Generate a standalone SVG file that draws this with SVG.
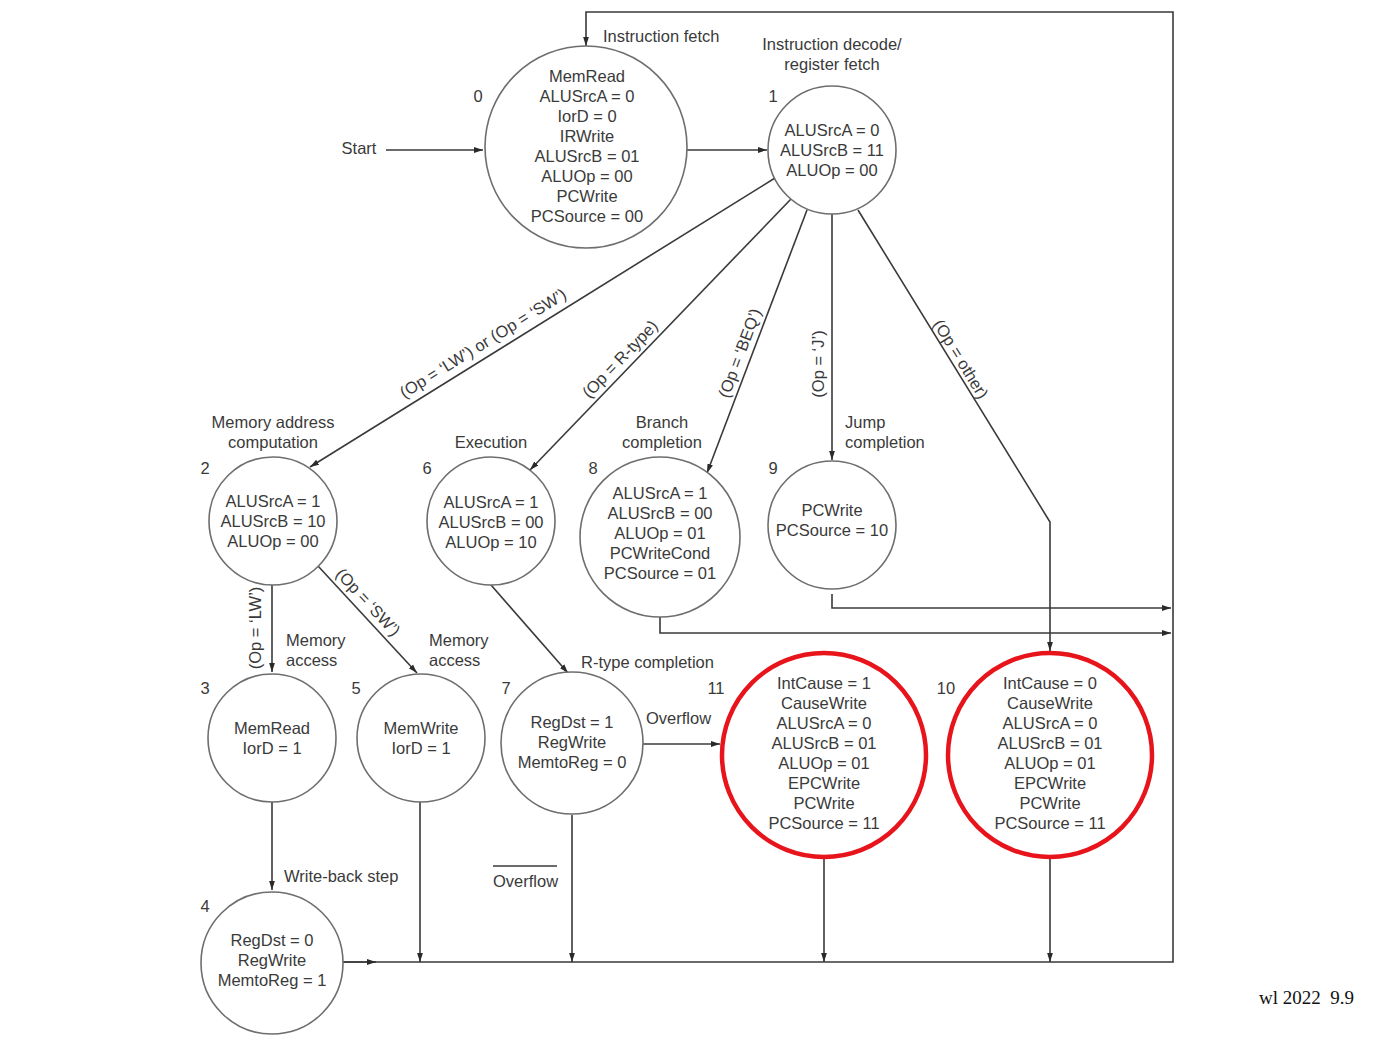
<svg xmlns="http://www.w3.org/2000/svg" width="1392" height="1046" viewBox="0 0 1392 1046">
  <style>
    text { font-family: "Liberation Sans", Arial, sans-serif; font-size: 16.5px; fill: #3a3a3a; }
    .c { text-anchor: middle; }
    .state { fill: #fff; stroke: #6e6e6e; stroke-width: 1.6; }
    .exc { fill: #fff; stroke: #e8141b; stroke-width: 4.5; }
    .wire { fill: none; stroke: #3a3a3a; stroke-width: 1.6; }
    .arr { fill: none; stroke: #3a3a3a; stroke-width: 1.6; marker-end: url(#ah); }
  </style>
  <defs>
    <marker id="ah" viewBox="0 0 10 10" refX="10" refY="5" markerWidth="9" markerHeight="9" markerUnits="userSpaceOnUse" orient="auto">
      <path d="M0,1.8 L10,5 L0,8.2 z" fill="#2a2a2a"/>
    </marker>
  </defs>
  <rect width="1392" height="1046" fill="#fff"/>

  <!-- transitions -->
  <g id="connectors">
    <!-- start -->
    <line class="arr" x1="386" y1="150" x2="483" y2="150"/>
    <!-- 0 -> 1 -->
    <line class="arr" x1="687" y1="150" x2="767" y2="150"/>
    <!-- 1 -> 2, 6, 8, 9 -->
    <line class="arr" x1="775" y1="178" x2="310" y2="467"/>
    <line class="arr" x1="791" y1="199" x2="530" y2="470"/>
    <line class="arr" x1="807" y1="210" x2="707" y2="473"/>
    <line class="arr" x1="832" y1="214" x2="832" y2="460"/>
    <!-- 1 -> 10 (other) -->
    <path class="arr" d="M858,210 L1050,522 V651"/>
    <!-- 2 -> 3, 5 -->
    <line class="arr" x1="272" y1="585" x2="272" y2="672"/>
    <line class="arr" x1="318" y1="566" x2="417" y2="673"/>
    <!-- 6 -> 7 -->
    <line class="arr" x1="491" y1="585" x2="568" y2="673"/>
    <!-- 7 -> 11 -->
    <line class="arr" x1="643" y1="744" x2="720" y2="744"/>
    <!-- 3 -> 4 -->
    <line class="arr" x1="272" y1="802" x2="272" y2="890"/>
    <!-- 9 and 8 back to fetch -->
    <path class="arr" d="M832,594 V608 H1171"/>
    <path class="arr" d="M660,617 V633 H1171"/>
    <!-- common return bus -->
    <path class="arr" d="M343,962 H1173 V12 H586 V46"/>
    <line class="arr" x1="343" y1="962" x2="376" y2="962"/>
    <line class="arr" x1="420" y1="802" x2="420" y2="962"/>
    <line class="arr" x1="572" y1="815" x2="572" y2="962"/>
    <line class="arr" x1="824" y1="858" x2="824" y2="962"/>
    <line class="arr" x1="1050" y1="858" x2="1050" y2="962"/>
  </g>

  <!-- transition labels -->
  <g id="labels">
    <text x="359" y="154" class="c">Start</text>
    <text x="603" y="42">Instruction fetch</text>
    <text x="832" y="50" class="c">Instruction decode/</text>
    <text x="832" y="70" class="c">register fetch</text>
    <text x="273" y="428" class="c">Memory address</text>
    <text x="273" y="448" class="c">computation</text>
    <text x="491" y="448" class="c">Execution</text>
    <text x="662" y="428" class="c">Branch</text>
    <text x="662" y="448" class="c">completion</text>
    <text x="845" y="428">Jump</text>
    <text x="845" y="448">completion</text>
    <text x="286" y="646">Memory</text>
    <text x="286" y="666">access</text>
    <text x="429" y="646">Memory</text>
    <text x="429" y="666">access</text>
    <text x="581" y="668">R-type completion</text>
    <text x="646" y="724">Overflow</text>
    <text x="284" y="882">Write-back step</text>
    <line x1="493" y1="866" x2="557" y2="866" stroke="#3a3a3a" stroke-width="1.6"/>
    <text x="493" y="887">Overflow</text>

    <text class="c" transform="translate(486,348) rotate(-31.8)">(Op = ‘LW’) or (Op = ‘SW’)</text>
    <text class="c" transform="translate(624,363) rotate(-46)">(Op = R-type)</text>
    <text class="c" transform="translate(745,355) rotate(-69.5)">(Op = ‘BEQ’)</text>
    <text class="c" transform="translate(824,364) rotate(-90)">(Op = ‘J’)</text>
    <text class="c" transform="translate(956,362) rotate(58.4)">(Op = other)</text>
    <text class="c" transform="translate(261,628) rotate(-90)">(Op = ‘LW’)</text>
    <text class="c" transform="translate(364,606) rotate(47)">(Op = ‘SW’)</text>

    <text x="1259" y="1004" xml:space="preserve" style="font-family:'Liberation Serif','Times New Roman',serif;font-size:19px;fill:#111;white-space:pre">wl 2022  9.9</text>
  </g>

  <g id="state0">
    <circle class="state" cx="586" cy="147" r="101"/>
    <text x="478" y="102" class="c">0</text>
    <text x="587" y="82" class="c">MemRead</text>
    <text x="587" y="102" class="c">ALUSrcA = 0</text>
    <text x="587" y="122" class="c">IorD = 0</text>
    <text x="587" y="142" class="c">IRWrite</text>
    <text x="587" y="162" class="c">ALUSrcB = 01</text>
    <text x="587" y="182" class="c">ALUOp = 00</text>
    <text x="587" y="202" class="c">PCWrite</text>
    <text x="587" y="222" class="c">PCSource = 00</text>
  </g>

  <g id="state1">
    <circle class="state" cx="832" cy="150" r="64"/>
    <text x="773" y="102" class="c">1</text>
    <text x="832" y="136" class="c">ALUSrcA = 0</text>
    <text x="832" y="156" class="c">ALUSrcB = 11</text>
    <text x="832" y="176" class="c">ALUOp = 00</text>
  </g>

  <g id="state2">
    <circle class="state" cx="273" cy="521" r="64"/>
    <text x="205" y="474" class="c">2</text>
    <text x="273" y="507" class="c">ALUSrcA = 1</text>
    <text x="273" y="527" class="c">ALUSrcB = 10</text>
    <text x="273" y="547" class="c">ALUOp = 00</text>
  </g>

  <g id="state6">
    <circle class="state" cx="491" cy="521" r="64"/>
    <text x="427" y="474" class="c">6</text>
    <text x="491" y="508" class="c">ALUSrcA = 1</text>
    <text x="491" y="528" class="c">ALUSrcB = 00</text>
    <text x="491" y="548" class="c">ALUOp = 10</text>
  </g>

  <g id="state8">
    <circle class="state" cx="660" cy="537" r="80"/>
    <text x="593" y="474" class="c">8</text>
    <text x="660" y="499" class="c">ALUSrcA = 1</text>
    <text x="660" y="519" class="c">ALUSrcB = 00</text>
    <text x="660" y="539" class="c">ALUOp = 01</text>
    <text x="660" y="559" class="c">PCWriteCond</text>
    <text x="660" y="579" class="c">PCSource = 01</text>
  </g>

  <g id="state9">
    <circle class="state" cx="832" cy="525" r="64"/>
    <text x="773" y="474" class="c">9</text>
    <text x="832" y="516" class="c">PCWrite</text>
    <text x="832" y="536" class="c">PCSource = 10</text>
  </g>

  <g id="state3">
    <circle class="state" cx="272" cy="738" r="64"/>
    <text x="205" y="694" class="c">3</text>
    <text x="272" y="734" class="c">MemRead</text>
    <text x="272" y="754" class="c">IorD = 1</text>
  </g>

  <g id="state5">
    <circle class="state" cx="421" cy="738" r="64"/>
    <text x="356" y="694" class="c">5</text>
    <text x="421" y="734" class="c">MemWrite</text>
    <text x="421" y="754" class="c">IorD = 1</text>
  </g>

  <g id="state7">
    <circle class="state" cx="572" cy="743" r="71"/>
    <text x="506" y="694" class="c">7</text>
    <text x="572" y="728" class="c">RegDst = 1</text>
    <text x="572" y="748" class="c">RegWrite</text>
    <text x="572" y="768" class="c">MemtoReg = 0</text>
  </g>

  <g id="state4">
    <circle class="state" cx="272" cy="963" r="71"/>
    <text x="205" y="912" class="c">4</text>
    <text x="272" y="946" class="c">RegDst = 0</text>
    <text x="272" y="966" class="c">RegWrite</text>
    <text x="272" y="986" class="c">MemtoReg = 1</text>
  </g>

  <g id="state11">
    <circle class="exc" cx="824" cy="755" r="102"/>
    <text x="716" y="694" class="c">11</text>
    <text x="824" y="689" class="c">IntCause = 1</text>
    <text x="824" y="709" class="c">CauseWrite</text>
    <text x="824" y="729" class="c">ALUSrcA = 0</text>
    <text x="824" y="749" class="c">ALUSrcB = 01</text>
    <text x="824" y="769" class="c">ALUOp = 01</text>
    <text x="824" y="789" class="c">EPCWrite</text>
    <text x="824" y="809" class="c">PCWrite</text>
    <text x="824" y="829" class="c">PCSource = 11</text>
  </g>

  <g id="state10">
    <circle class="exc" cx="1050" cy="755" r="102"/>
    <text x="946" y="694" class="c">10</text>
    <text x="1050" y="689" class="c">IntCause = 0</text>
    <text x="1050" y="709" class="c">CauseWrite</text>
    <text x="1050" y="729" class="c">ALUSrcA = 0</text>
    <text x="1050" y="749" class="c">ALUSrcB = 01</text>
    <text x="1050" y="769" class="c">ALUOp = 01</text>
    <text x="1050" y="789" class="c">EPCWrite</text>
    <text x="1050" y="809" class="c">PCWrite</text>
    <text x="1050" y="829" class="c">PCSource = 11</text>
  </g>
</svg>
